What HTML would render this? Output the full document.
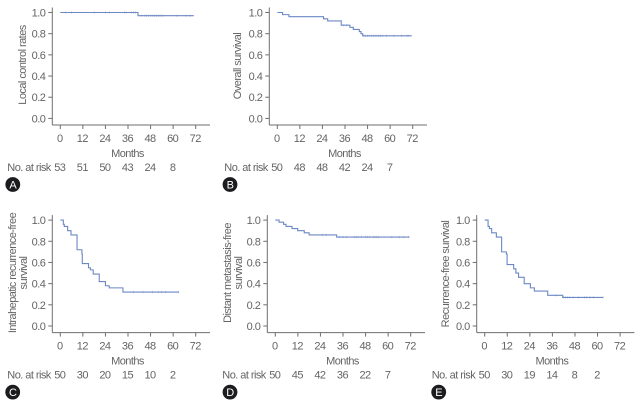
<!DOCTYPE html>
<html lang="en">
<head>
<meta charset="utf-8">
<title>Kaplan-Meier survival curves</title>
<style>
  html, body { margin: 0; padding: 0; background: #fff; }
  svg { display: block; }
  text { font-family: "Liberation Sans", sans-serif; font-size: 11px; fill: #646464; letter-spacing: -0.55px; }
</style>
</head>
<body>
<svg id="figure" width="641" height="403" viewBox="0 0 641 403" xmlns="http://www.w3.org/2000/svg"></svg>
<script>
const monthTicks = [0, 12, 24, 36, 48, 60, 72];
const rateTicks = [0, 0.2, 0.4, 0.6, 0.8, 1.0];

const riskA = [53, 51, 50, 43, 24, 8];
const riskB = [50, 48, 48, 42, 24, 7];
const riskC = [50, 30, 20, 15, 10, 2];
const riskD = [50, 45, 42, 36, 22, 7];
const riskE = [50, 30, 19, 14, 8, 2];

const timesA = [0, 41.3, 71];
const survivalA = [1.0, 0.97, 0.97];
const censorA = [3, 6, 18, 24, 26, 34, 35, 38, 39, 40, 43, 45, 46, 47, 48, 49, 50, 51, 52, 53, 54, 55, 62, 67, 69];

const timesB = [0, 2.8, 6.2, 24.6, 26.8, 34, 38.6, 40.4, 43.6, 44.5, 45.4, 71.5];
const survivalB = [1.0, 0.98, 0.96, 0.94, 0.92, 0.88, 0.86, 0.84, 0.82, 0.80, 0.78, 0.78];
const censorB = [35, 37, 46, 47, 48, 49, 50, 51, 52, 53, 54, 55, 56, 58, 62, 66, 69, 70];

const timesC = [0, 1.6, 2.1, 3.9, 5.7, 8.9, 11.5, 11.7, 15, 16, 17.5, 20.7, 24, 26, 33.3, 63];
const survivalC = [1.0, 0.96, 0.94, 0.90, 0.86, 0.72, 0.68, 0.59, 0.55, 0.53, 0.49, 0.42, 0.38, 0.36, 0.32, 0.32];
const censorC = [39, 44, 49, 52, 54, 56, 63];

const timesD = [0, 2, 4.4, 5.7, 8.9, 11.9, 15.4, 18, 32.6, 71.3];
const survivalD = [1.0, 0.98, 0.96, 0.94, 0.92, 0.90, 0.88, 0.86, 0.84, 0.84];
const censorD = [25, 27, 34, 36, 38, 42, 43, 44, 46, 48, 49, 50, 52, 53, 54, 55, 62, 66, 68, 71];

const timesE = [0, 1.8, 2.5, 3.7, 6.2, 9, 11.5, 11.9, 15.4, 16.6, 18, 21, 24.3, 26.4, 33.5, 41.5, 63];
const survivalE = [1.0, 0.94, 0.92, 0.88, 0.84, 0.70, 0.68, 0.58, 0.54, 0.50, 0.46, 0.40, 0.36, 0.33, 0.29, 0.27, 0.27];
const censorE = [38, 42, 43, 44, 45, 47, 50, 53, 54, 56, 58, 63];

const SVG_NS = 'http://www.w3.org/2000/svg';
const figure = document.getElementById('figure');
const AXIS_COLOR = '#6e6e6e';
const CURVE_COLOR = '#6c88c4';
const MONTH_PX = 135.4 / 72;
const RATE_PX = 105.9;

function make(tag, parent, attrs) {
  const el = document.createElementNS(SVG_NS, tag);
  for (const key in attrs) el.setAttribute(key, attrs[key]);
  parent.appendChild(el);
  return el;
}

function drawPanel(p) {
  const xScale = m => p.x0 + m * MONTH_PX;
  const yScale = r => p.y0 - r * RATE_PX;
  const axisY = p.y0 + 6.6;
  const axisLeft = p.x0 - 8;
  const axisRight = p.x0 + 149.7;

  const group = make('g', figure, {});
  
  

  const yAxis = make('line', group, { x1: axisLeft, x2: axisLeft, y1: yScale(1) - 5, y2: axisY, stroke: AXIS_COLOR, 'stroke-width': 1 });
  
  

  const xAxis = make('line', group, { x1: axisLeft, x2: axisRight, y1: axisY, y2: axisY, stroke: AXIS_COLOR, 'stroke-width': 1 });
  
  

  rateTicks.forEach(r => {
    const tick = make('line', group, { x1: axisLeft - 4, x2: axisLeft, y1: yScale(r), y2: yScale(r), stroke: AXIS_COLOR, 'stroke-width': 1 });
    
    
    const label = make('text', group, { x: axisLeft - 7, y: yScale(r) + 4, 'text-anchor': 'end' });
    label.textContent = r.toFixed(1);
    
    
  });

  monthTicks.forEach(m => {
    const tick = make('line', group, { x1: xScale(m), x2: xScale(m), y1: axisY, y2: axisY + 4, stroke: AXIS_COLOR, 'stroke-width': 1 });
    
    
    const label = make('text', group, { x: xScale(m) - 0.5, y: axisY + 17, 'text-anchor': 'middle' });
    label.textContent = String(m);
    
    
  });

  const xTitle = make('text', group, { x: xScale(36) - 0.5, y: axisY + 32, 'text-anchor': 'middle' });
  xTitle.textContent = 'Months';
  
  

  p.titleLines.forEach((line, i) => {
    const tx = p.titleX[i];
    const title = make('text', group, { x: tx, y: p.titleY, 'text-anchor': 'middle', transform: 'rotate(-90 ' + tx + ' ' + p.titleY + ')' });
    title.textContent = line;
    
    
  });

  let d = 'M' + xScale(p.times[0]) + ' ' + yScale(p.survival[0]);
  for (let i = 1; i < p.times.length; i++) {
    d += 'H' + xScale(p.times[i]) + 'V' + yScale(p.survival[i]);
  }
  const curve = make('path', group, { d: d, fill: 'none', stroke: CURVE_COLOR, 'stroke-width': 1.1 });
  
  

  const survivalAt = t => {
    let s = p.survival[0];
    for (let i = 0; i < p.times.length; i++) if (p.times[i] <= t) s = p.survival[i];
    return s;
  };
  p.censor.forEach(t => {
    const y = yScale(survivalAt(t));
    const mark = make('line', group, { x1: xScale(t), x2: xScale(t), y1: y - 1.2, y2: y + 1.2, stroke: CURVE_COLOR, 'stroke-width': 0.5, 'stroke-opacity': 0.7 });
    
    
  });

  const riskY = axisY + 46;
  const riskTitle = make('text', group, { x: p.x0 - 53, y: riskY });
  riskTitle.textContent = 'No. at risk';
  
  

  p.risk.forEach((n, i) => {
    const value = make('text', group, { x: xScale(monthTicks[i]) - 0.5, y: riskY, 'text-anchor': 'middle' });
    value.textContent = String(n);
    
    
  });

  const badgeX = p.x0 - p.badgeOffset;
  const badgeY = axisY + 59.5;
  const badge = make('circle', group, { cx: badgeX, cy: badgeY, r: 7.4, fill: '#1c1c1e' });
  
  
  const badgeLabel = make('text', group, { x: badgeX, y: badgeY + 4, 'text-anchor': 'middle', style: 'fill:#fff' });
  badgeLabel.textContent = p.id;
  
  
}

drawPanel({ id: 'A', x0: 60.3, y0: 118.4, badgeOffset: 47.5, titleLines: ['Local control rates'], titleX: [26], titleY: 65, times: timesA, survival: survivalA, censor: censorA, risk: riskA });
drawPanel({ id: 'B', x0: 277.3, y0: 118.4, badgeOffset: 47.3, titleLines: ['Overall survival'], titleX: [241], titleY: 66, times: timesB, survival: survivalB, censor: censorB, risk: riskB });
drawPanel({ id: 'C', x0: 60.3, y0: 326, badgeOffset: 47.6, titleLines: ['Intrahepatic recurrence-free', 'survival'], titleX: [16, 27], titleY: 273, times: timesC, survival: survivalC, censor: censorC, risk: riskC });
drawPanel({ id: 'D', x0: 275.3, y0: 326, badgeOffset: 45.3, titleLines: ['Distant metastasis-free', 'survival'], titleX: [231, 242], titleY: 273, times: timesD, survival: survivalD, censor: censorD, risk: riskD });
drawPanel({ id: 'E', x0: 484.7, y0: 326, badgeOffset: 46, titleLines: ['Recurrence-free survival'], titleX: [449], titleY: 274, times: timesE, survival: survivalE, censor: censorE, risk: riskE });
</script>
</body>
</html>
